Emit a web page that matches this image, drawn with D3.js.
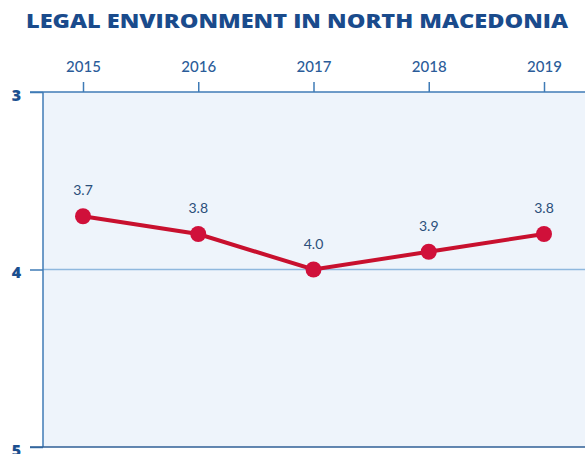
<!DOCTYPE html>
<html><head><meta charset="utf-8">
<script src="https://cdn.jsdelivr.net/npm/d3@7"></script>
<style>
html,body{margin:0;padding:0;background:#fff;}
svg{display:block;}
</style></head>
<body>
<svg id="chart" width="585" height="454"></svg>
<script>
const title = "LEGAL ENVIRONMENT IN NORTH MACEDONIA";
const years = ["2015","2016","2017","2018","2019"];
const values = [3.7, 3.8, 4.0, 3.9, 3.8];
const yTicks = [3, 4, 5];

const svg = d3.select("#chart");
const m = {left: 43, top: 92, right: 0, bottom: 447};
const x = d3.scalePoint().domain(years).range([83, 544]);
const y = d3.scaleLinear().domain([3, 5]).range([m.top, m.bottom]);

const dark = "#1b4f8f";
const axisCol = "#3f7bb6";

svg.append("text").attr("x", 297).attr("y", 28).attr("text-anchor", "middle")
  .attr("font-family", "'Open Sans', Lato, sans-serif").attr("font-weight", 800)
  .attr("font-size", 19).attr("fill", "#1a4b8c")
  .attr("textLength", 542).attr("lengthAdjust", "spacingAndGlyphs").text(title);

// plot bg
svg.append("rect").attr("x", m.left).attr("y", y(3)).attr("width", 585 - m.left)
  .attr("height", y(5) - y(3)).attr("fill", "#eef4fb");

// gridline at 4
svg.append("line").attr("x1", m.left).attr("x2", 585).attr("y1", y(4)).attr("y2", y(4))
  .attr("stroke", "#8fb8de").attr("stroke-width", 1.5);

// top axis
const xAxis = d3.axisTop(x).tickSize(10).tickPadding(10);
const gx = svg.append("g").attr("transform", `translate(0,${y(3)})`).call(xAxis);
gx.select(".domain").attr("d", `M${m.left - 13},0H585`).attr("stroke", axisCol).attr("stroke-width", 1.5);
gx.selectAll(".tick line").attr("stroke", axisCol).attr("stroke-width", 1.5);
gx.selectAll(".tick text").attr("font-family", "Lato, 'Open Sans', sans-serif")
  .attr("font-size", 15).attr("fill", "#2b5c99").attr("font-weight", 500);

// left axis
const yAxis = d3.axisLeft(y).tickValues(yTicks).tickSize(13).tickPadding(9).tickFormat(d3.format("d"));
const gy = svg.append("g").attr("transform", `translate(${m.left},0)`).call(yAxis);
gy.select(".domain").attr("d", `M0,${y(3)}V${y(5)}`).attr("stroke", axisCol).attr("stroke-width", 1.5);
gy.selectAll(".tick line").attr("stroke", axisCol).attr("stroke-width", 1.5);
gy.selectAll(".tick text").attr("font-family", "'Open Sans', Lato, sans-serif")
  .attr("font-size", 16).attr("font-weight", 800).attr("fill", dark).attr("dy", "0.5em");

// bottom line
svg.append("line").attr("x1", m.left - 13).attr("x2", 585).attr("y1", y(5)).attr("y2", y(5))
  .attr("stroke", "#2f5f96").attr("stroke-width", 1.5);

const data = years.map((yr, i) => ({yr, v: values[i]}));
svg.append("path").datum(data)
  .attr("d", d3.line().x(d => x(d.yr)).y(d => y(d.v)))
  .attr("fill", "none").attr("stroke", "#c8102e").attr("stroke-width", 4);
svg.selectAll("circle.pt").data(data).join("circle").attr("class", "pt")
  .attr("cx", d => x(d.yr)).attr("cy", d => y(d.v)).attr("r", 8).attr("fill", "#d0103a");
svg.selectAll("text.lbl").data(data).join("text").attr("class", "lbl")
  .attr("x", d => x(d.yr)).attr("y", d => y(d.v) - 21).attr("text-anchor", "middle")
  .attr("font-family", "Lato, 'Open Sans', sans-serif").attr("font-size", 14)
  .attr("fill", "#2b4f7a").text(d => d3.format(".1f")(d.v));
</script>
</body></html>
